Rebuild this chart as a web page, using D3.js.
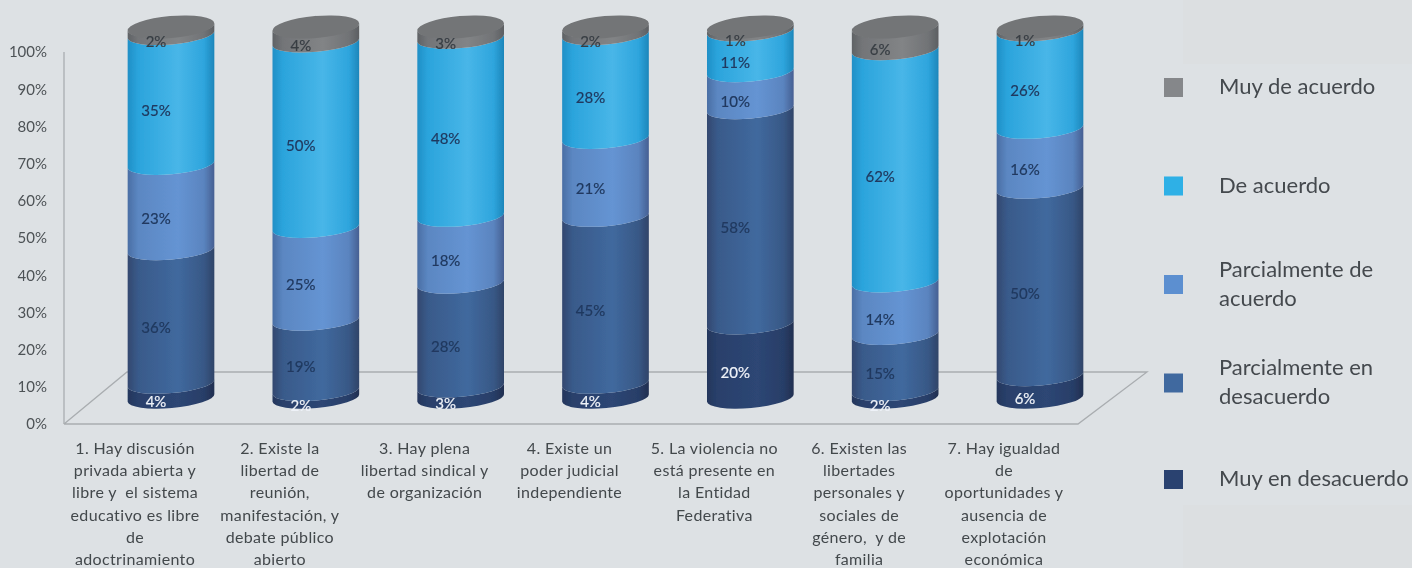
<!DOCTYPE html>
<html><head><meta charset="utf-8">
<script src="https://cdnjs.cloudflare.com/ajax/libs/d3/7.8.5/d3.min.js"></script>
<style>html,body{margin:0;padding:0;background:#dde1e4;overflow:hidden}svg{display:block;font-family:Lato,"Open Sans",sans-serif}</style>
</head><body><svg id="c" width="1412" height="568"></svg>
<script>
const categories = [
 ["1. Hay discusión","privada abierta y","libre y  el sistema","educativo es libre","de","adoctrinamiento"],
 ["2. Existe la","libertad de","reunión,","manifestación, y","debate público","abierto"],
 ["3. Hay plena","libertad sindical y","de organización"],
 ["4. Existe un","poder judicial","independiente"],
 ["5. La violencia no","está presente en","la Entidad","Federativa"],
 ["6. Existen las","libertades","personales y","sociales de","género,  y de","familia"],
 ["7. Hay igualdad","de","oportunidades y","ausencia de","explotación","económica"]
];
const seriesNames = ["Muy en desacuerdo","Parcialmente en desacuerdo","Parcialmente de acuerdo","De acuerdo","Muy de acuerdo"];
const muyDesacuerdo = [4,2,3,4,20,2,6];
const parcialDesacuerdo = [36,19,28,45,58,15,50];
const parcialAcuerdo = [23,25,18,21,10,14,16];
const deAcuerdo = [35,50,48,28,11,62,26];
const muyAcuerdo = [2,4,3,2,1,6,1];
const allValues = [muyDesacuerdo,parcialDesacuerdo,parcialAcuerdo,deAcuerdo,muyAcuerdo];
const ticks = [0,.1,.2,.3,.4,.5,.6,.7,.8,.9,1];
const gradients = [
 ["#24365c","#29406b","#2d4674","#283e68","#222f50"],
 ["#33486f","#395a8a","#40699e","#385886","#2f4468"],
 ["#4a6ea4","#5b87c2","#6594d3","#5a84bf","#465f92"],
 ["#1f8fc6","#2ba4dc","#48b6e8","#2ea5dd","#1d86ba"],
 ["#5f6265","#737578","#828486","#717376","#5c5f62"]];
const swatches = ["#2a4270","#41699f","#5b8fd0","#2fb0e6","#85878a"];
const labelColors = ["#eef2f8","#20395f","#20395f","#20395f","#383e44"];

const svg = d3.select("#c");
const defs = svg.append("defs");
gradients.forEach((g,i)=>{
  const lg = defs.append("linearGradient").attr("id","g"+i);
  g.forEach((c,j)=>lg.append("stop").attr("offset",[0,.12,.58,.88,1][j]).attr("stop-color",c));
});
defs.append("filter").attr("id","soft").append("feGaussianBlur").attr("stdDeviation",0.5);
const root = svg.append("g").attr("filter","url(#soft)");

// faint panels behind the legend
root.append("rect").attr("x",1183).attr("y",0).attr("width",229).attr("height",64).attr("fill","#dcdfe1");
root.append("rect").attr("x",1183).attr("y",505).attr("width",229).attr("height",63).attr("fill","#dcdfe1");

const x = d3.scalePoint().domain(categories.map((d,i)=>i)).range([171,1040]);
const yAxis = d3.scaleLinear().domain([0,1]).range([424,52]);
const yCyl = d3.scaleLinear().domain([0,1]).range([398,27]);
const rx = 43.5, ry = 10, topRy = 11, tilt = -5;
const dx = rx*Math.cos(tilt*Math.PI/180), dy = rx*Math.sin(tilt*Math.PI/180);

// walls / floor
const grid = "#a9adb0";
root.append("path").attr("fill","none").attr("stroke",grid).attr("stroke-width",1.3)
  .attr("d",d3.line()([[64,424],[127,372],[1147,372],[1078,424],[64,424]]));
root.append("line").attr("x1",64).attr("x2",64).attr("y1",yAxis(1)).attr("y2",yAxis(0)).attr("stroke",grid).attr("stroke-width",1.3);

// axis
const ax = root.append("g").attr("transform","translate(64,0)")
  .call(d3.axisLeft(yAxis).tickValues(ticks).tickFormat(d3.format(".0%")).tickSize(0).tickPadding(17));
ax.select(".domain").remove();
ax.selectAll("text").attr("font-size",15).attr("font-family","Lato").attr("fill","#4d5256");

// stacks
const rows = categories.map((c,i)=>{const o={};seriesNames.forEach((s,j)=>o[s]=allValues[j][i]);return o;});
const stacked = d3.stack().keys(seriesNames).offset(d3.stackOffsetExpand)(rows);

stacked.forEach((layer,s)=>{
  layer.forEach((d,i)=>{
    const cx=x(i), yb=yCyl(d[0]), yt=yCyl(d[1]);
    root.append("path").attr("fill",`url(#g${s})`).attr("d",
      `M${cx-dx},${yt-dy}L${cx-dx},${yb-dy}A${rx},${ry} ${tilt} 0 0 ${cx+dx},${yb+dy}L${cx+dx},${yt+dy}A${rx},${ry} ${tilt} 0 1 ${cx-dx},${yt-dy}Z`);
    if(s===seriesNames.length-1){
      root.append("ellipse").attr("cx",cx).attr("cy",yt).attr("rx",rx).attr("ry",topRy)
        .attr("transform",`rotate(${tilt} ${cx} ${yt})`).attr("fill","#737577");
    }
  });
});
stacked.forEach((layer,s)=>{
  layer.forEach((d,i)=>{
    const mid=(d[0]+d[1])/2;
    root.append("text").attr("x",x(i)-15).attr("y",yCyl(mid)+ry+1.5).attr("dy","0.35em").attr("text-anchor","middle")
      .attr("font-size",15).attr("fill",labelColors[s]).attr("stroke",labelColors[s]).attr("stroke-width",0.2)
      .text(allValues[s][i]+"%");
  });
});

// category labels
categories.forEach((lines,i)=>{
  const t=root.append("text").attr("text-anchor","middle").attr("font-size",16).attr("letter-spacing",0.35).attr("fill","#43484c").style("white-space","pre");
  lines.forEach((l,j)=>t.append("tspan").attr("x",x(i)-36).attr("y",454+j*22.2).text(l));
});

// legend
const legendOrder = [
 {s:4,y:87.5,lines:["Muy de acuerdo"]},
 {s:3,y:186,lines:["De acuerdo"]},
 {s:2,y:284.5,lines:["Parcialmente de","acuerdo"]},
 {s:1,y:383,lines:["Parcialmente en","desacuerdo"]},
 {s:0,y:479.5,lines:["Muy en desacuerdo"]}];
legendOrder.forEach(l=>{
  root.append("rect").attr("x",1164).attr("y",l.y-9.5).attr("width",19).attr("height",19).attr("fill",swatches[l.s]);
  const t=root.append("text").attr("font-size",22).attr("fill","#44494e");
  l.lines.forEach((ln,j)=>t.append("tspan").attr("x",1219).attr("y",l.y+6.5-(l.lines.length-1)*14.5+j*29).text(ln));
});
</script></body></html>
